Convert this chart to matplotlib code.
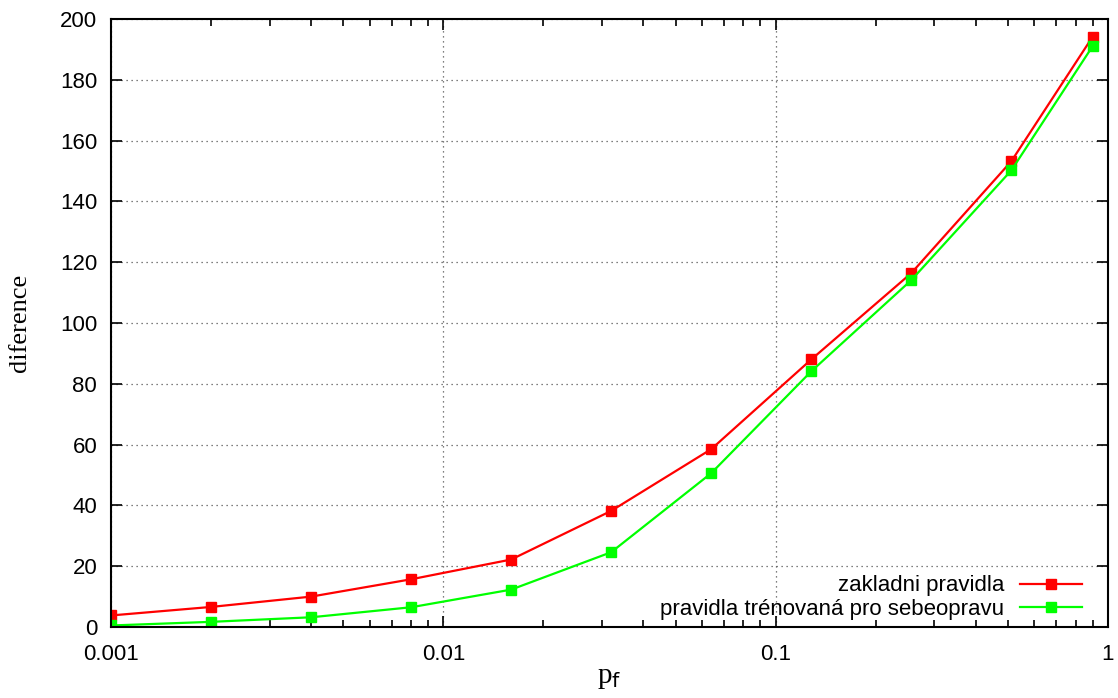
import matplotlib
matplotlib.use('Agg')
import matplotlib.pyplot as plt
from matplotlib.ticker import FixedLocator, FixedFormatter, LogLocator, NullFormatter

# data
pf = [0.001, 0.002, 0.004, 0.008, 0.016, 0.032, 0.064, 0.128, 0.256, 0.512, 0.9]
zakladni = [3.8, 6.6, 10.0, 15.7, 22.2, 38.2, 58.5, 88.0, 116.4, 153.2, 194.2]
trenovana = [0.5, 1.7, 3.2, 6.5, 12.3, 24.6, 50.6, 84.1, 114.1, 150.2, 191.1]
xticks = [0.001, 0.01, 0.1, 1]
xticklabels = ['0.001', '0.01', '0.1', '1']
yticks = list(range(0, 201, 20))

sans = ['Liberation Sans', 'DejaVu Sans']
serif = ['Liberation Serif', 'DejaVu Serif']

fig = plt.figure(figsize=(11.18, 6.98), dpi=100)
ax = fig.add_axes([0.0993, 0.1017, 0.8917, 0.8711])

ax.plot(pf, zakladni, '-s', color='#ff0000', lw=1.6, ms=7.4, label='zakladni pravidla')
ax.plot(pf, trenovana, '-s', color='#00ff00', lw=1.6, ms=7.4, label='pravidla trénovaná pro sebeopravu')

ax.set_xscale('log')
ax.set_xlim(0.001, 1)
ax.set_ylim(0, 200)
ax.xaxis.set_major_locator(FixedLocator(xticks))
ax.xaxis.set_major_formatter(FixedFormatter(xticklabels))
ax.xaxis.set_minor_locator(LogLocator(base=10, subs=range(2, 10)))
ax.xaxis.set_minor_formatter(NullFormatter())
ax.set_yticks(yticks)

ax.grid(True, which='major', linestyle=(0, (1, 3)), color='#555555', lw=0.9)
ax.tick_params(which='both', direction='in', top=True, right=True, width=1.2, labelsize=16)
ax.tick_params(axis='y', pad=10)
ax.tick_params(axis='x', pad=12)
ax.tick_params(which='major', length=8)
ax.tick_params(which='minor', length=5)
for lab in ax.get_xticklabels() + ax.get_yticklabels():
    lab.set_family(sans)
for s in ax.spines.values():
    s.set_linewidth(1.5)

ax.set_xlabel('p$_\\mathrm{f}$', fontsize=21, family=serif, labelpad=0)
ax.set_ylabel('diference', fontsize=19, family=serif, labelpad=21)

leg = ax.legend(loc='lower right', frameon=False, markerfirst=False, prop={'family': sans, 'size': 16},
                handlelength=2.8, handletextpad=0.7, borderaxespad=0, borderpad=0,
                labelspacing=0.1, bbox_to_anchor=(0.974, 0.012))

fig.savefig('out.png', dpi=100)
